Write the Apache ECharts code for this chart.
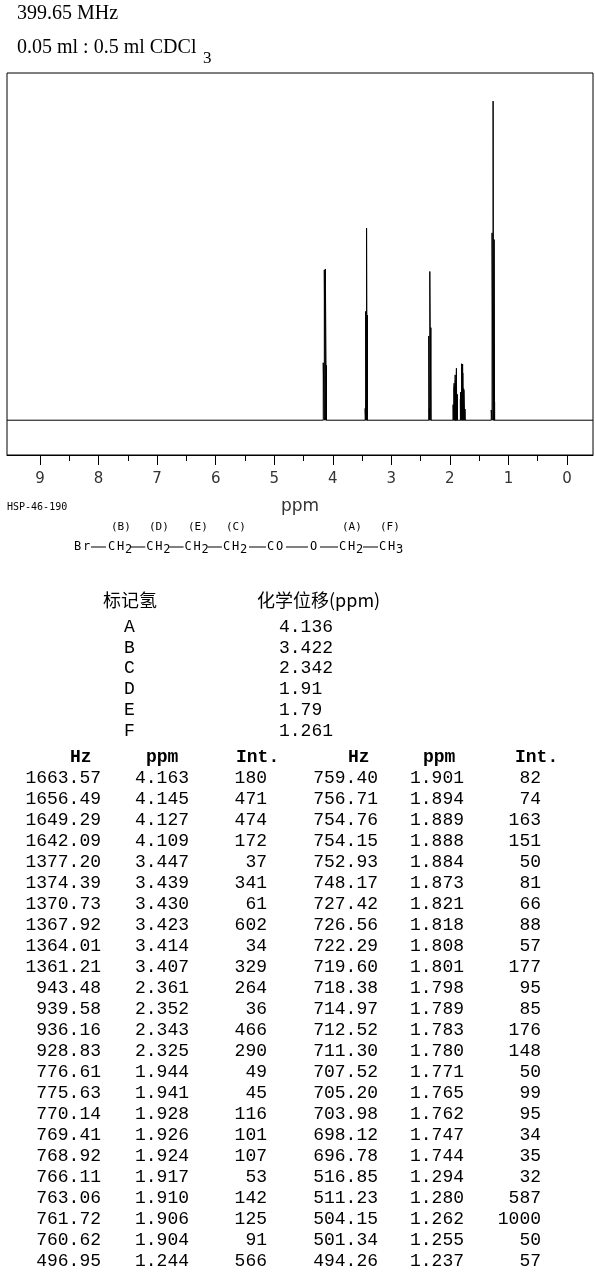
<!DOCTYPE html>
<html>
<head>
<meta charset="utf-8">
<script src="https://cdn.jsdelivr.net/npm/echarts@6/dist/echarts.min.js"></script>
<style>
html,body{margin:0;padding:0;background:#fff;}
#chart{width:595px;height:1276px;}
</style>
</head>
<body>
<div id="chart"></div>
<script>
// ---- data ----
const titleLine1 = '399.65 MHz';
const titleLine2 = '0.05 ml : 0.5 ml CDCl';
const titleSub = '3';
const sampleId = 'HSP-46-190';

const majorTicks = [0, 1, 2, 3, 4, 5, 6, 7, 8, 9];
const minorTicks = [0.5, 1.5, 2.5, 3.5, 4.5, 5.5, 6.5, 7.5, 8.5];
const axisName = 'ppm';

// peak list, left column (top to bottom)
const hzL = [1663.57,1656.49,1649.29,1642.09,1377.20,1374.39,1370.73,1367.92,1364.01,1361.21,943.48,939.58,936.16,928.83,776.61,775.63,770.14,769.41,768.92,766.11,763.06,761.72,760.62,496.95];
const ppmL = [4.163,4.145,4.127,4.109,3.447,3.439,3.430,3.423,3.414,3.407,2.361,2.352,2.343,2.325,1.944,1.941,1.928,1.926,1.924,1.917,1.910,1.906,1.904,1.244];
const intL = [180,471,474,172,37,341,61,602,34,329,264,36,466,290,49,45,116,101,107,53,142,125,91,566];
// peak list, right column (top to bottom)
const hzR = [759.40,756.71,754.76,754.15,752.93,748.17,727.42,726.56,722.29,719.60,718.38,714.97,712.52,711.30,707.52,705.20,703.98,698.12,696.78,516.85,511.23,504.15,501.34,494.26];
const ppmR = [1.901,1.894,1.889,1.888,1.884,1.873,1.821,1.818,1.808,1.801,1.798,1.789,1.783,1.780,1.771,1.765,1.762,1.747,1.744,1.294,1.280,1.262,1.255,1.237];
const intR = [82,74,163,151,50,81,66,88,57,177,95,85,176,148,50,99,95,34,35,32,587,1000,50,57];

const tableHeaders = ['Hz', 'ppm', 'Int.'];

// assignment table
const assignHeader = ['标记氢', '化学位移(ppm)'];
const assignLabels = ['A', 'B', 'C', 'D', 'E', 'F'];
const assignShifts = ['4.136', '3.422', '2.342', '1.91', '1.79', '1.261'];

// structure
const groupLabels = ['(B)', '(D)', '(E)', '(C)', '(A)', '(F)'];

// ---- layout ----
const XMIN = -0.444, XMAX = 9.564;
const YMIN = -109, YMAX = 1088;

const allPpm = ppmL.concat(ppmR);
const allInt = intL.concat(intR);
const peaks = allPpm.map((p, i) => [p, allInt[i]]).sort((a, b) => a[0] - b[0]);
const spec = [[XMIN, 0]];
peaks.forEach(([p, v]) => { spec.push([p, 0], [p, v], [p, 0]); });
spec.push([XMAX, 0]);

const G = [];
function txt(x, y, text, font, align, vAlign, fill) {
  G.push({type: 'text', x: x, y: y, silent: true, style: {
    text: text, font: font, fill: fill || '#000',
    textAlign: align || 'left', align: align || 'left',
    textVerticalAlign: vAlign || 'middle', verticalAlign: vAlign || 'middle'
  }});
}
function hline(x1, x2, y) {
  G.push({type: 'line', silent: true, shape: {x1: x1, y1: y, x2: x2, y2: y}, style: {stroke: '#000', lineWidth: 1}});
}

const serif = "'Liberation Serif', 'Times New Roman', serif";
txt(17, 14, titleLine1, '20px ' + serif);
txt(17, 48, titleLine2, '20px ' + serif);
txt(203, 59, titleSub, '17px ' + serif);

const smallMono = "'DejaVu Sans Mono', monospace";
txt(7, 507, sampleId, '10px ' + smallMono);

// structure formula
const fy = 547;
const ff = '12px ' + smallMono;
function chars(str, x, y, step) { for (let i = 0; i < str.length; i++) txt(x + i * step, y, str[i], ff); }
const labX = [111, 149, 188, 226, 342, 380];
groupLabels.forEach((l, i) => txt(labX[i], 527, l, '11px ' + smallMono));
chars('Br', 74, fy, 9);
const chX = [108, 146.3, 184.6, 223];
hline(91, 106, fy);
chX.forEach((x, i) => {
  chars('CH', x, fy, 9);
  txt(x + 17, fy + 3, '2', ff);
  if (i < 3) hline(x + 23, x + 37.3, fy);
});
hline(249, 266, fy);
chars('CO', 267, fy, 9);
hline(286, 308, fy);
chars('O', 310, fy, 9);
hline(320, 338, fy);
chars('CH', 339, fy, 9); txt(356, fy + 3, '2', ff);
hline(363, 378, fy);
chars('CH', 379, fy, 9); txt(396, fy + 3, '3', ff);

// assignment table
const cjk = "'Noto Sans CJK SC', sans-serif";
const mono = "'Liberation Mono', 'Courier New', monospace";
txt(103, 600, assignHeader[0], '18px ' + cjk);
txt(257, 600, assignHeader[1], '18px ' + cjk);
assignLabels.forEach((l, i) => {
  const y = 627 + i * 20.8;
  txt(124, y, l, '18px ' + mono);
  txt(279, y, assignShifts[i], '18px ' + mono);
});

// peak table
const rowH = 21.02, y0 = 757;
const hdrX = [[70, 146, 236], [348, 423, 515]];
hdrX.forEach(xs => xs.forEach((x, j) => txt(x, y0, tableHeaders[j], 'bold 18px ' + mono)));
function col(hz, pp, it, xHz, xPpm, xInt) {
  hz.forEach((h, i) => {
    const y = y0 + (i + 1) * rowH;
    txt(xHz, y, h.toFixed(2), '18px ' + mono, 'right');
    txt(xPpm, y, pp[i].toFixed(3), '18px ' + mono, 'left');
    txt(xInt, y, String(it[i]), '18px ' + mono, 'right');
  });
}
col(hzL, ppmL, intL, 101, 135, 267);
col(hzR, ppmR, intR, 378, 410, 541);

const chart = echarts.init(document.getElementById('chart'), null, {renderer: 'canvas'});
chart.setOption({
  animation: false,
  backgroundColor: '#fff',
  grid: {left: 7, right: 2, top: 73, height: 382, show: true, borderColor: '#000', borderWidth: 1, backgroundColor: 'transparent'},
  xAxis: [{
    type: 'value', inverse: true, min: XMIN, max: XMAX, position: 'bottom',
    axisLine: {show: true, onZero: false, lineStyle: {color: '#000', width: 1}},
    axisTick: {show: true, length: 10, customValues: majorTicks, lineStyle: {color: '#000', width: 1}},
    axisLabel: {show: true, customValues: majorTicks, margin: 17, fontSize: 15, color: '#333', fontFamily: 'DejaVu Sans', formatter: v => String(v)},
    splitLine: {show: false},
    name: axisName, nameLocation: 'middle', nameGap: 43,
    nameTextStyle: {fontSize: 17, color: '#333', fontFamily: 'DejaVu Sans'}
  }, {
    type: 'value', inverse: true, min: XMIN, max: XMAX, position: 'bottom',
    axisLine: {show: false, onZero: false},
    axisTick: {show: true, length: 6, customValues: minorTicks, lineStyle: {color: '#000', width: 1}},
    axisLabel: {show: false},
    splitLine: {show: false}
  }],
  yAxis: {type: 'value', min: YMIN, max: YMAX, show: false, splitLine: {show: false}},
  series: [{
    type: 'line', xAxisIndex: 0, data: spec, showSymbol: false, symbol: 'none',
    lineStyle: {color: '#000', width: 1}, silent: true
  }],
  graphic: {elements: G}
});
</script>
</body>
</html>
